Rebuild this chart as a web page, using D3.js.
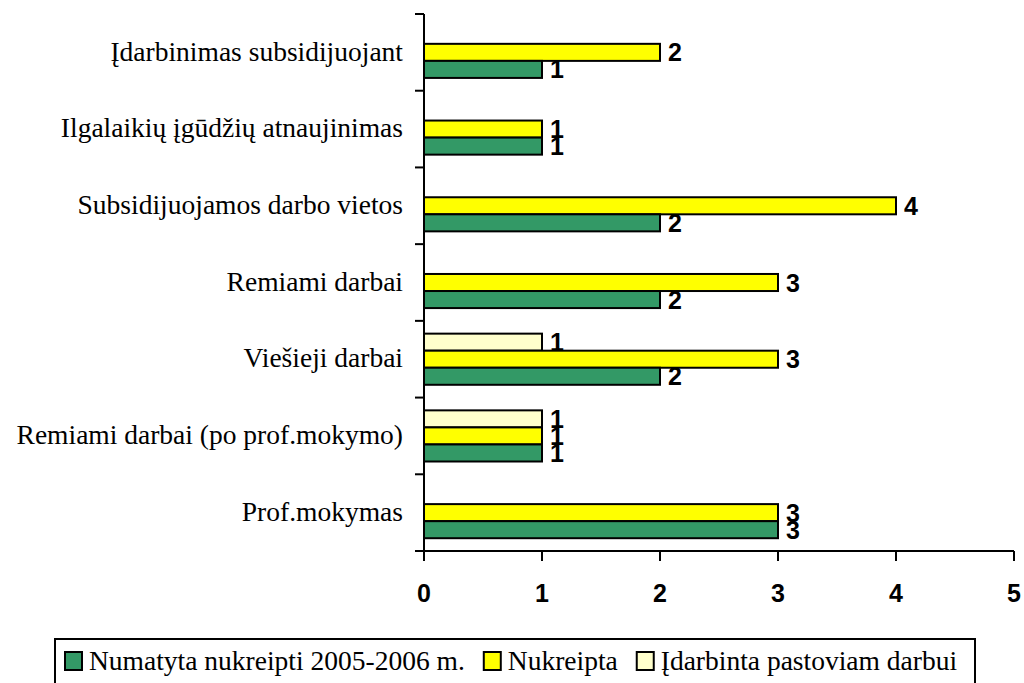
<!DOCTYPE html>
<html><head><meta charset="utf-8">
<script src="https://cdn.jsdelivr.net/npm/d3@7"></script>
<style>body{margin:0;background:#fff}svg{display:block}</style>
</head><body>
<svg id="c" width="1024" height="683"></svg>
<script>
const categories = ["Įdarbinimas subsidijuojant","Ilgalaikių įgūdžių atnaujinimas","Subsidijuojamos darbo vietos","Remiami darbai","Viešieji darbai","Remiami darbai (po prof.mokymo)","Prof.mokymas"];
const seriesNames = ["Numatyta nukreipti 2005-2006 m.","Nukreipta","Įdarbinta pastoviam darbui"];
const numatyta = [1,1,2,2,2,1,3];
const nukreipta = [2,1,4,3,3,1,3];
const idarbinta = [0,0,0,0,1,1,0];
const xTicks = [0,1,2,3,4,5];
const colors = ["#339966","#FFFF00","#FFFFCC"];

const serif = "'Liberation Serif', 'Times New Roman', serif";
const sans = "'Liberation Sans', Arial, sans-serif";
const seriesValues = [numatyta, nukreipta, idarbinta];
const svg = d3.select("#c");
const x = d3.scaleLinear().domain([0,5]).range([424,1014]);
const y = d3.scaleBand().domain(categories).range([14,551]).padding(0);
const inner = d3.scaleBand().domain([2,1,0]).range([0,y.bandwidth()]).paddingInner(0).paddingOuter(0.75);

const g = svg.append("g");
categories.forEach((c,ci)=>{
  [2,1,0].forEach(si=>{
    const v = seriesValues[si][ci];
    if(!v) return;
    const y0 = y(c)+inner(si);
    g.append("rect").attr("x",x(0)).attr("y",y0).attr("width",x(v)-x(0)).attr("height",inner.bandwidth())
      .attr("fill",colors[si]).attr("stroke","#000").attr("stroke-width",2);
  });
});
categories.forEach((c,ci)=>{
  [2,1,0].forEach(si=>{
    const v = seriesValues[si][ci];
    if(!v) return;
    const yc = y(c)+inner(si)+inner.bandwidth()/2;
    g.append("text").attr("x",x(v)+8).attr("y",yc).attr("dy","0.36em")
      .style("font-family",sans).attr("font-weight","bold").attr("font-size",25)
      .text(v);
  });
});

// y axis
svg.append("line").attr("x1",424).attr("x2",424).attr("y1",14).attr("y2",551).attr("stroke","#000").attr("stroke-width",2);
const bounds = categories.map(c=>y(c)).concat([y.range()[1]]);
bounds.forEach(b=>{
  svg.append("line").attr("x1",415).attr("x2",424).attr("y1",b).attr("y2",b).attr("stroke","#000").attr("stroke-width",2);
});
categories.forEach(c=>{
  svg.append("text").attr("x",403).attr("y",y(c)+y.bandwidth()/2).attr("dy","0.3em").attr("text-anchor","end")
    .style("font-family",serif).attr("font-size",27.5).text(c);
});
// x axis
svg.append("line").attr("x1",415).attr("x2",1014).attr("y1",551).attr("y2",551).attr("stroke","#000").attr("stroke-width",2);
xTicks.forEach(t=>{
  svg.append("line").attr("x1",x(t)).attr("x2",x(t)).attr("y1",551).attr("y2",561).attr("stroke","#000").attr("stroke-width",2);
  svg.append("text").attr("x",x(t)).attr("y",602).attr("text-anchor","middle")
    .style("font-family",sans).attr("font-weight","bold").attr("font-size",25).text(t);
});

// legend
svg.append("rect").attr("x",55).attr("y",639).attr("width",920).attr("height",60).attr("fill","none").attr("stroke","#000").attr("stroke-width",2);
const lg = svg.append("g");
let lx = 65;
seriesNames.forEach((n,i)=>{
  lg.append("rect").attr("x",lx).attr("y",652).attr("width",17).attr("height",18).attr("fill",colors[i]).attr("stroke","#000").attr("stroke-width",2);
  const t = lg.append("text").attr("x",lx+24).attr("y",670).style("font-family",serif).attr("font-size",27.5).text(n);
  lx += 24 + t.node().getComputedTextLength() + 19;
});
</script>
</body></html>
